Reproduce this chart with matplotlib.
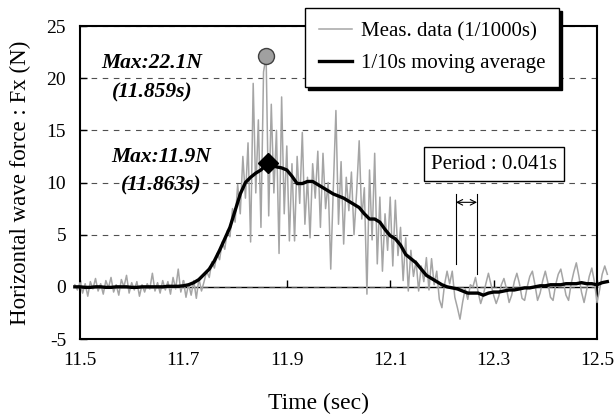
import numpy as np
import matplotlib
matplotlib.use("Agg")
import matplotlib.pyplot as plt

plt.rcParams['font.family'] = ['Liberation Serif', 'DejaVu Serif']

# ---------------- data ----------------
t_start = 11.49
raw_step = 0.005
avg_step = 0.010

raw_pre = [0.2, -0.3, 0.4, -0.6, 0.3, -0.9, 0.5, -0.2, 0.8, -0.4,
           0.3, -0.7, 0.6, -0.1, 0.9, -0.5, 0.2, -0.8, 0.7, 0.0,
           1.1, -0.6, 0.4, -0.3, 0.5, -0.9, 0.2, -0.5, 0.3, -0.2,
           1.3, -0.4, 0.4, -0.6, 0.6, -0.3, 0.5, -0.7, 0.9, -0.2,
           1.7, -0.5, 0.6, -1.0, 0.3]
raw_rise = [-0.8, 0.6, -1.1, 0.8, -0.4, 0.5, 1.5, 0.9, 2.4, 1.8,
            3.2, 2.6, 4.3, 3.6, 5.4, 4.8]
raw_peak = [7.5, 6.2, 9.8, 7.0, 12.5, 8.5, 13.8, 4.3, 19.5, 9.0,
            16.0, 5.7, 20.6, 22.1, 6.8, 17.5, 9.0, 15.0, 3.2, 18.2,
            7.0, 13.5]
raw_mid = [4.4, 11.8, 4.4, 12.5, 8.0, 14.8, 6.0, 10.5, 4.7, 11.8,
           8.5, 13.0, 5.7, 12.8, 7.5, 10.0, 1.7, 9.5, 16.9, 6.0]
raw_decay = [12.0, 4.1, 10.5, 7.3, 11.0, 5.0, 9.0, 14.0, 6.5, 9.5,
             -0.7, 11.2, 4.5, 12.8, 2.2, 8.6, 1.5, 7.0, 3.5, 8.6,
             2.0, 8.3, 3.0, 5.7, 0.6, 4.7]
raw_tail1 = [-0.4, 3.5, 1.0, 2.5, -0.4, 2.0, 0.5, 2.8, -0.3, 2.7,
             0.2, 1.5, -1.2, -2.0, 0.2, 1.5, 0.3, 1.5, -1.0, -2.0,
             -3.1, -1.5, -0.2, -1.2, 0.2, 0.0, 0.9, -0.5, -1.6, -0.8,
             0.3, 1.3, 0.2, -0.8]
raw_tail2 = [-1.6, -0.9, 0.2, 0.8, -0.2, -1.5, -0.8, 0.5, 1.3, 0.3,
             -1.1, -1.3, 0.0, 1.0, 1.5, 0.2, -1.3, -0.6, 0.6, 1.5,
             0.4, -1.0, -1.3, 0.2, 1.2, 1.7, 0.5, -0.8, -1.3, 0.3,
             1.4, 2.3, 1.0, -0.5, -1.5, -0.3, 1.0, 1.8, 0.5, -1.5,
             -0.3, 1.2, 2.0, 1.2]

moving_avg = [0.0, 0.0, -0.05, -0.05, 0.0, 0.0, -0.05, -0.05, 0.0, 0.0,
              0.0, -0.05, -0.05, 0.0, 0.0, 0.0, 0.0, 0.0, 0.05, 0.05,
              0.05, 0.1, 0.2, 0.4, 0.7, 1.2, 1.7, 2.5, 3.5, 4.6,
              5.7, 7.3, 8.9, 10.0, 10.5, 10.9, 11.2, 11.7, 11.7, 11.5,
              11.4, 11.2, 10.6, 9.9, 9.9, 10.1, 10.1, 9.8, 9.5, 9.2,
              8.9, 8.7, 8.5, 8.2, 7.9, 7.6, 7.0, 6.5, 6.5, 6.2,
              5.5, 4.9, 4.6, 4.0, 3.1, 2.7, 2.3, 1.7, 1.1, 0.8,
              0.5, 0.2, 0.0, -0.1, -0.2, -0.4, -0.6, -0.6, -0.6, -0.8,
              -0.6, -0.5, -0.5, -0.4, -0.3, -0.3, -0.2, -0.1, -0.1, 0.0,
              0.1, 0.1, 0.2, 0.2, 0.2, 0.3, 0.3, 0.3, 0.4, 0.3,
              0.3, 0.2, 0.4, 0.5]

max_raw_t, max_raw_v = 11.859, 22.1
max_avg_t, max_avg_v = 11.863, 11.9
period_t0, period_t1 = 12.227, 12.268

x_ticks = [11.5, 11.7, 11.9, 12.1, 12.3, 12.5]
x_ticklabels = ['11.5', '11.7', '11.9', '12.1', '12.3', '12.5']
y_ticks = [-5, 0, 5, 10, 15, 20, 25]
y_ticklabels = ['-5', '0', '5', '10', '15', '20', '25']

raw = np.array(raw_pre + raw_rise + raw_peak + raw_mid + raw_decay + raw_tail1 + raw_tail2)
t_raw = t_start + raw_step * np.arange(len(raw))
avg = np.array(moving_avg)
t_avg = t_start + avg_step * np.arange(len(avg))

# ---------------- figure ----------------
fig = plt.figure(figsize=(6.15, 4.19), dpi=100)
ax = fig.add_axes([80/615, 1 - 339/419, 517/615, 313/419])
ax.set_xlim(11.5, 12.5)
ax.set_ylim(-5, 25)

ax.set_xticks(x_ticks)
ax.set_xticklabels(x_ticklabels)
ax.set_yticks(y_ticks)
ax.set_yticklabels(y_ticklabels)
ax.tick_params(axis='x', length=0, pad=9, labelsize=14)
ax.tick_params(axis='y', direction='in', length=5, width=1, pad=10, labelsize=14)

ax.yaxis.grid(True, linestyle=(0, (5, 5)), color='#505050', linewidth=0.8)
ax.set_axisbelow(True)
for s in ax.spines.values():
    s.set_linewidth(1.5)

# zero axis with ticks
ymin, ymax = ax.get_ylim()
sec = ax.secondary_xaxis((0 - ymin) / (ymax - ymin))
sec.set_xticks(x_ticks)
sec.tick_params(direction='in', length=5, width=1, labelbottom=False, labeltop=False)
sec.spines['bottom'].set_linewidth(1.0)

ax.plot(t_raw, raw, color='#a5a5a5', lw=1.1, clip_on=False, zorder=3,
        label='Meas. data (1/1000s)')
ax.plot(t_avg, avg, color='black', lw=2.4, clip_on=False, zorder=4,
        label='1/10s moving average')

ax.plot([max_raw_t], [max_raw_v], marker='o', ms=11.5, mfc='#a0a0a0',
        mec='#404040', mew=1.0, zorder=5, clip_on=False)
ax.plot([max_avg_t], [max_avg_v], marker='D', ms=10, mfc='black',
        mec='black', zorder=6)

ann_font = dict(fontsize=15.5, fontweight='bold', fontstyle='italic', ha='center', va='center')
ax.text(11.639, 21.5, f'Max:{max_raw_v}N', **ann_font)
ax.text(11.639, 18.65, f'({max_raw_t:.3f}s)', **ann_font)
ax.text(11.657, 12.4, f'Max:{max_avg_v}N', **ann_font)
ax.text(11.657, 9.7, f'({max_avg_t:.3f}s)', **ann_font)

# period annotation
ax.text(12.301, 11.75, 'Period : 0.041s', fontsize=15, ha='center', va='center',
        bbox=dict(boxstyle='square,pad=0.35', fc='white', ec='black', lw=1.0), zorder=7)
ax.plot([period_t0, period_t0], [2.2, 8.85], color='black', lw=0.8, zorder=6)
ax.plot([period_t1, period_t1], [1.25, 8.85], color='black', lw=0.8, zorder=6)
ax.annotate('', xy=(period_t0, 8.1), xytext=(period_t1, 8.1),
            arrowprops=dict(arrowstyle='<->', lw=0.8, color='black',
                            shrinkA=0, shrinkB=0, mutation_scale=10), zorder=6)

ax.set_xlabel('Time (sec)', fontsize=17, va='center')
ax.xaxis.set_label_coords((318 - 80) / 517, (16 - 80) / 313)
ax.set_ylabel('Horizontal wave force : Fx (N)', fontsize=16.5, va='center')
ax.yaxis.set_label_coords((20 - 80) / 517, 0.5)

leg = ax.legend(loc='upper left', bbox_to_anchor=(305/615, 1 - 8/419),
                bbox_transform=fig.transFigure, fontsize=15, frameon=True,
                fancybox=False, edgecolor='black', framealpha=1,
                shadow={'color': 'black', 'alpha': 1}, handlelength=1.6,
                labelspacing=0.6, borderpad=0.65, handletextpad=0.45,
                borderaxespad=0)
leg.get_frame().set_linewidth(1.0)
leg.set_zorder(10)

fig.savefig('out.png', dpi=100)
